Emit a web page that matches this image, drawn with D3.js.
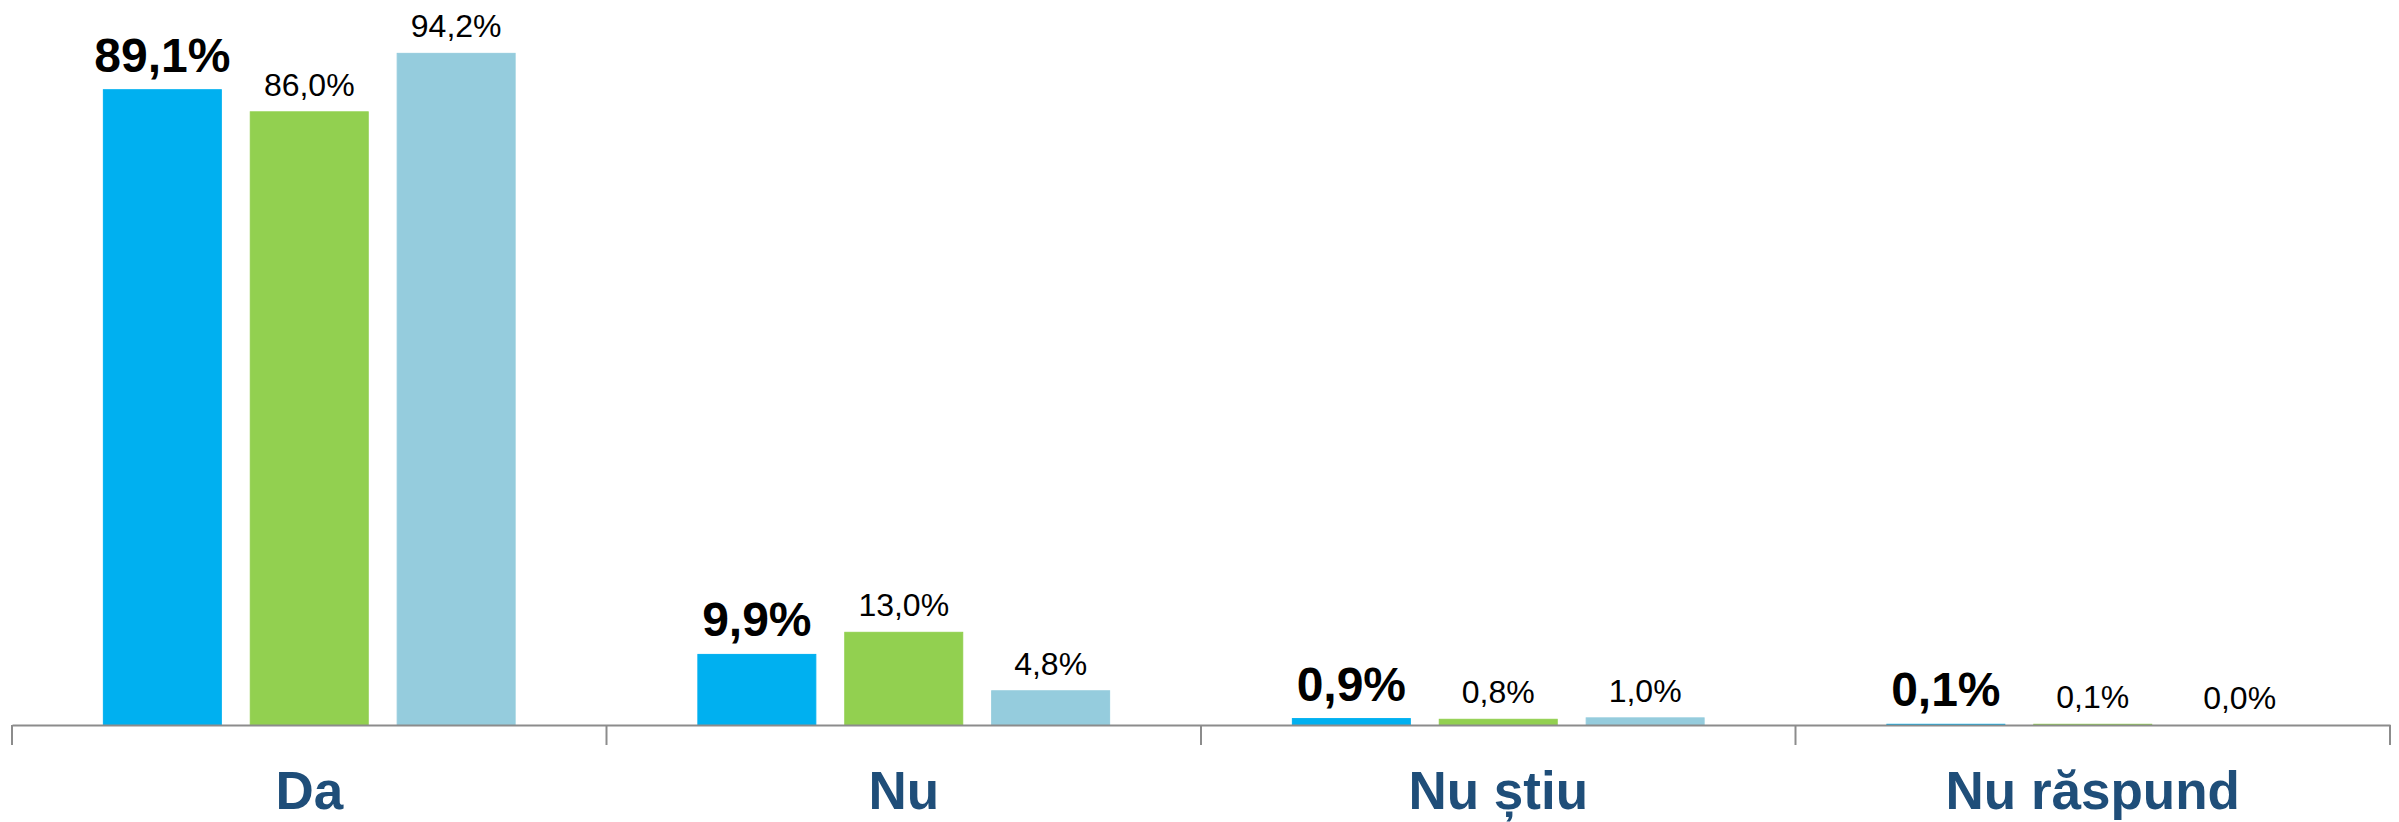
<!DOCTYPE html>
<html>
<head>
<meta charset="utf-8">
<script src="https://cdn.jsdelivr.net/npm/d3@7"></script>
<style>
    body { margin: 0; background: #ffffff; }
    svg  { display: block; font-family: "Liberation Sans", Arial, sans-serif; }
</style>
</head>
<body>
<svg id="answer_chart" width="2399" height="822"></svg>
<script>
// the following data
const categories = ["Da", "Nu", "Nu știu", "Nu răspund"];
const seriesKeys = ["total", "grupA", "grupB"];
const valuesTotal = [89.1, 9.9, 0.9, 0.1];
const valuesGrupA = [86.0, 13.0, 0.8, 0.1];
const valuesGrupB = [94.2, 4.8, 1.0, 0.0];

const seriesValues = { total: valuesTotal, grupA: valuesGrupA, grupB: valuesGrupB };
const seriesColors = { total: "#00B0F0", grupA: "#92D050", grupB: "#95CCDD" };

var target_svg    = d3.select("#answer_chart");
var target_width  = +target_svg.attr("width");
var target_height = +target_svg.attr("height");

var margin = { top    : 12,
               bottom : 97,
               left   : 12,
               right  : 9 };

var innerWidth  = target_width  - margin.left - margin.right;
var innerHeight = target_height - margin.top  - margin.bottom;

const chart = target_svg.append("g")
    .attr("transform", `translate(${margin.left},${margin.top})`);

// scales
const xScale = d3.scaleBand()
    .domain(categories)
    .range([0, innerWidth])
    .padding(0);

const xInner = d3.scaleBand()
    .domain(seriesKeys)
    .range([0, xScale.bandwidth()])
    .paddingInner(0.197)
    .paddingOuter(0.622);

const yScale = d3.scaleLinear()
    .domain([0, 100])
    .range([innerHeight, 0]);

// flatten for the bars
const barData = [];
categories.forEach((c, i) =>
{
    seriesKeys.forEach(k =>
    {
        barData.push({ category: c, key: k, value: seriesValues[k][i] });
    });
});

// bars
chart.selectAll(".bar").data(barData)
    .enter().append("rect")
    .attr("class",  "bar")
    .attr("x",      d => xScale(d.category) + xInner(d.key))
    .attr("width",  xInner.bandwidth())
    .attr("y",      d => yScale(d.value))
    .attr("height", d => innerHeight - yScale(d.value))
    .attr("fill",   d => seriesColors[d.key])
    .attr("stroke", d => d.value > 0 ? seriesColors[d.key] : "none")
    .attr("stroke-width", 1);

// axis
const AxisX = d3.axisBottom(xScale)
    .tickSize(0)
    .tickSizeOuter(0)
    .tickPadding(0);

const chartAxisX = chart.append("g")
    .attr("transform", `translate(0,${innerHeight})`)
    .call(AxisX);

chartAxisX.select(".domain")
    .attr("stroke", "#8C8C8C")
    .attr("stroke-width", 2);

chartAxisX.selectAll(".tick text")
    .attr("y",  84)
    .attr("dy", null)
    .attr("fill", "#1F4E79")
    .style("font-size",   "53px")
    .style("font-weight", "bold")
    .style("font-family", "'Liberation Sans', Arial, sans-serif");

// category boundary ticks
const boundaries = categories.map(c => xScale(c)).concat([xScale.range()[1]]);
chartAxisX.selectAll(".boundary").data(boundaries)
    .enter().append("line")
    .attr("class", "boundary")
    .attr("x1", d => d)
    .attr("x2", d => d)
    .attr("y1", 0)
    .attr("y2", 20)
    .attr("stroke", "#8C8C8C")
    .attr("stroke-width", 2);

// value labels
const fmt = v => d3.format(".1f")(v).replace(".", ",") + "%";

chart.selectAll(".bar_label").data(barData)
    .enter().append("text")
    .attr("class", "bar_label")
    .attr("x", d => xScale(d.category) + xInner(d.key) + xInner.bandwidth() / 2)
    .attr("y", d => yScale(d.value) - (d.key === "total" ? 18 : 16))
    .attr("text-anchor", "middle")
    .attr("fill", "#000000")
    .style("font-size",   d => d.key === "total" ? "48px" : "32px")
    .style("font-weight", d => d.key === "total" ? "bold" : "normal")
    .text(d => fmt(d.value));
</script>
</body>
</html>
